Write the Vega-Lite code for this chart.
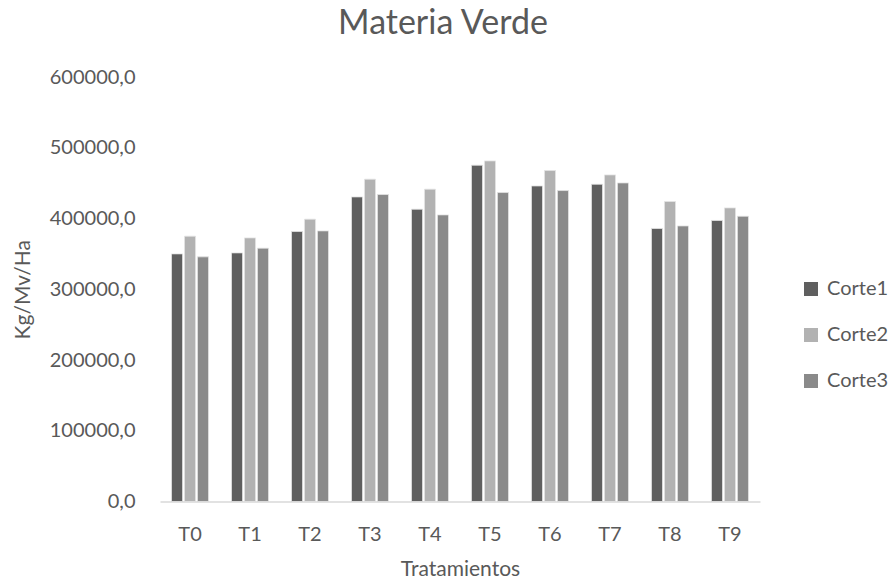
{
  "$schema": "https://vega.github.io/schema/vega-lite/v6.json",
  "autosize": {"type": "none"},
  "width": 600,
  "height": 424.5,
  "padding": {"left": 160, "top": 77, "right": 129, "bottom": 82.5},
  "background": "white",
  "title": {
    "text": "Materia Verde",
    "anchor": "middle",
    "frame": "group",
    "dx": -17,
    "baseline": "middle",
    "offset": 9,
    "font": "Lato",
    "fontSize": 34,
    "fontWeight": "normal",
    "color": "#595959"
  },
  "data": {
    "values": [
      {"tratamiento": "T0", "corte": "Corte1", "kg": 350000},
      {"tratamiento": "T0", "corte": "Corte2", "kg": 375000},
      {"tratamiento": "T0", "corte": "Corte3", "kg": 345800},
      {"tratamiento": "T1", "corte": "Corte1", "kg": 351400},
      {"tratamiento": "T1", "corte": "Corte2", "kg": 372600},
      {"tratamiento": "T1", "corte": "Corte3", "kg": 358100},
      {"tratamiento": "T2", "corte": "Corte1", "kg": 381600},
      {"tratamiento": "T2", "corte": "Corte2", "kg": 399000},
      {"tratamiento": "T2", "corte": "Corte3", "kg": 382500},
      {"tratamiento": "T3", "corte": "Corte1", "kg": 430500},
      {"tratamiento": "T3", "corte": "Corte2", "kg": 455500},
      {"tratamiento": "T3", "corte": "Corte3", "kg": 433900},
      {"tratamiento": "T4", "corte": "Corte1", "kg": 413100},
      {"tratamiento": "T4", "corte": "Corte2", "kg": 441400},
      {"tratamiento": "T4", "corte": "Corte3", "kg": 405100},
      {"tratamiento": "T5", "corte": "Corte1", "kg": 475300},
      {"tratamiento": "T5", "corte": "Corte2", "kg": 481400},
      {"tratamiento": "T5", "corte": "Corte3", "kg": 436700},
      {"tratamiento": "T6", "corte": "Corte1", "kg": 446000},
      {"tratamiento": "T6", "corte": "Corte2", "kg": 467800},
      {"tratamiento": "T6", "corte": "Corte3", "kg": 439500},
      {"tratamiento": "T7", "corte": "Corte1", "kg": 448400},
      {"tratamiento": "T7", "corte": "Corte2", "kg": 461600},
      {"tratamiento": "T7", "corte": "Corte3", "kg": 450300},
      {"tratamiento": "T8", "corte": "Corte1", "kg": 385900},
      {"tratamiento": "T8", "corte": "Corte2", "kg": 424000},
      {"tratamiento": "T8", "corte": "Corte3", "kg": 389500},
      {"tratamiento": "T9", "corte": "Corte1", "kg": 397200},
      {"tratamiento": "T9", "corte": "Corte2", "kg": 415000},
      {"tratamiento": "T9", "corte": "Corte3", "kg": 403200}
    ]
  },
  "mark": {"type": "bar", "stroke": "#e3e3e3", "strokeWidth": 0.8},
  "encoding": {
    "x": {
      "field": "tratamiento",
      "type": "nominal",
      "scale": {"paddingInner": 0.383, "paddingOuter": 0.192},
      "axis": {
        "title": "Tratamientos",
        "titleFont": "Lato",
        "titleFontSize": 21,
        "titleFontWeight": "normal",
        "titleColor": "#595959",
        "titlePadding": 14,
        "labelFont": "Lato",
        "labelFontSize": 20,
        "labelColor": "#595959",
        "labelAngle": 0,
        "labelPadding": 23,
        "ticks": false,
        "domainColor": "#d9d9d9",
        "domainWidth": 1.5
      }
    },
    "xOffset": {
      "field": "corte",
      "type": "nominal",
      "scale": {"paddingInner": 0.15, "paddingOuter": 0}
    },
    "y": {
      "field": "kg",
      "type": "quantitative",
      "scale": {"domain": [0, 600000], "nice": false},
      "axis": {
        "title": "Kg/Mv/Ha",
        "titleFont": "Lato",
        "titleFontSize": 21,
        "titleFontWeight": "normal",
        "titleColor": "#595959",
        "titlePadding": 16,
        "values": [0, 100000, 200000, 300000, 400000, 500000, 600000],
        "labelExpr": "replace(format(datum.value, '.1f'), '.', ',')",
        "labelFont": "Lato",
        "labelFontSize": 20,
        "labelColor": "#595959",
        "labelPadding": 25,
        "ticks": false,
        "domain": false,
        "grid": false
      }
    },
    "color": {
      "field": "corte",
      "type": "nominal",
      "scale": {
        "domain": ["Corte1", "Corte2", "Corte3"],
        "range": ["#5f5f5f", "#b2b2b2", "#8a8a8a"]
      },
      "legend": {
        "title": null,
        "orient": "none",
        "legendX": 641,
        "legendY": 202,
        "symbolType": "square",
        "symbolSize": 196,
        "symbolStrokeWidth": 0,
        "labelFont": "Lato",
        "labelFontSize": 20,
        "labelColor": "#595959",
        "labelOffset": 6,
        "rowPadding": 26
      }
    }
  },
  "config": {
    "view": {"stroke": null}
  }
}
